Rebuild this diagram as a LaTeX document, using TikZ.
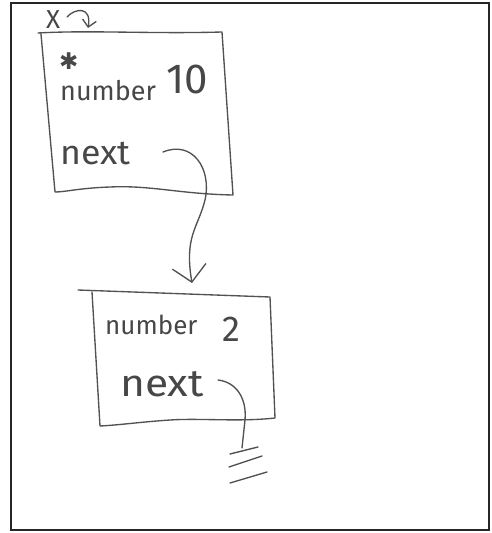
\documentclass[tikz,border=0pt]{standalone}
\usepackage{fontspec}
\setmainfont{Fira Sans}
\newfontfamily\symfont{DejaVu Sans}
\usetikzlibrary{arrows.meta}
\begin{document}
\begin{tikzpicture}[x=1pt,y=-1pt,
  ink/.style={draw=black!68, line width=1.35pt, line cap=round, line join=round},
  hand/.style={text=black!72, inner sep=0pt, anchor=base west},
  barb/.style={-{Straight Barb[length=16pt,width=34pt]}}]
\useasboundingbox (0,0) rectangle (491,533);
% frame
\draw[draw=black!85, line width=1.6pt] (11,3) rectangle (489,530);

% ---------- first record ----------
\coordinate (a1) at (38,33);
\coordinate (a2) at (222,32);
\coordinate (a3) at (233,195);
\coordinate (a4) at (55,192);
\draw[ink] (a1) .. controls (90,30) and (150,34) .. (a2) -- (a3)
  .. controls (180,194) and (150,185) .. (110,187) .. controls (80,188) and (65,192) .. (a4)
  -- (41,34);

\node[hand, font=\fontsize{26}{26}\selectfont] (x) at (46,28) {X};
\coordinate (xs) at (67,17);
\coordinate (xt) at (88,28);
\draw[ink, -{Straight Barb[length=7pt,width=14pt]}] (xs) .. controls (75,8) and (92,6) .. (xt);

\node[hand, font=\symfont\fontsize{23}{23}\selectfont] (star) at (59,69) {✱};
\node[hand, font=\fontsize{27}{27}\selectfont] (num1) at (60,100) {number};
\node[hand, font=\fontsize{42}{42}\selectfont] (ten) at (166,93) {10};
\node[hand, font=\fontsize{34}{34}\selectfont] (next1) at (60,164) {\scalebox{1.05}[1]{next}};

\coordinate (s1) at (163,152);
\coordinate (t1) at (192,283);
\draw[ink, barb] (s1) .. controls (192,140) and (212,168) .. (205,200)
  .. controls (198,228) and (184,236) .. (t1);

% ---------- second record ----------
\coordinate (b1) at (78,290);
\coordinate (b2) at (270,297);
\coordinate (b3) at (275,418);
\coordinate (b4) at (100,426);
\coordinate (b5) at (92,292);
\draw[ink] (b1) -- (b2) -- (b3)
  .. controls (240,422) and (200,418) .. (170,420) .. controls (140,422) and (120,425) .. (b4)
  -- (b5);

\node[hand, font=\fontsize{26}{26}\selectfont] (num2) at (105,334) {number};
\node[hand, font=\fontsize{36}{36}\selectfont] (two) at (222,341) {2};
\node[hand, font=\fontsize{38}{38}\selectfont] (next2) at (120,396) {\scalebox{1.12}[1]{next}};

\coordinate (s2) at (218,380);
\coordinate (g0) at (242,448);
\draw[ink] (s2) .. controls (236,382) and (247,398) .. (245,420) -- (g0);

% ground
\coordinate (g1a) at (230,454);
\coordinate (g1b) at (258,447);
\coordinate (g2a) at (229,467);
\coordinate (g2b) at (262,456);
\coordinate (g3a) at (230,483);
\coordinate (g3b) at (267,472);
\draw[ink] (g1a) -- (g1b);
\draw[ink] (g2a) -- (g2b);
\draw[ink] (g3a) -- (g3b);
\end{tikzpicture}
\end{document}
